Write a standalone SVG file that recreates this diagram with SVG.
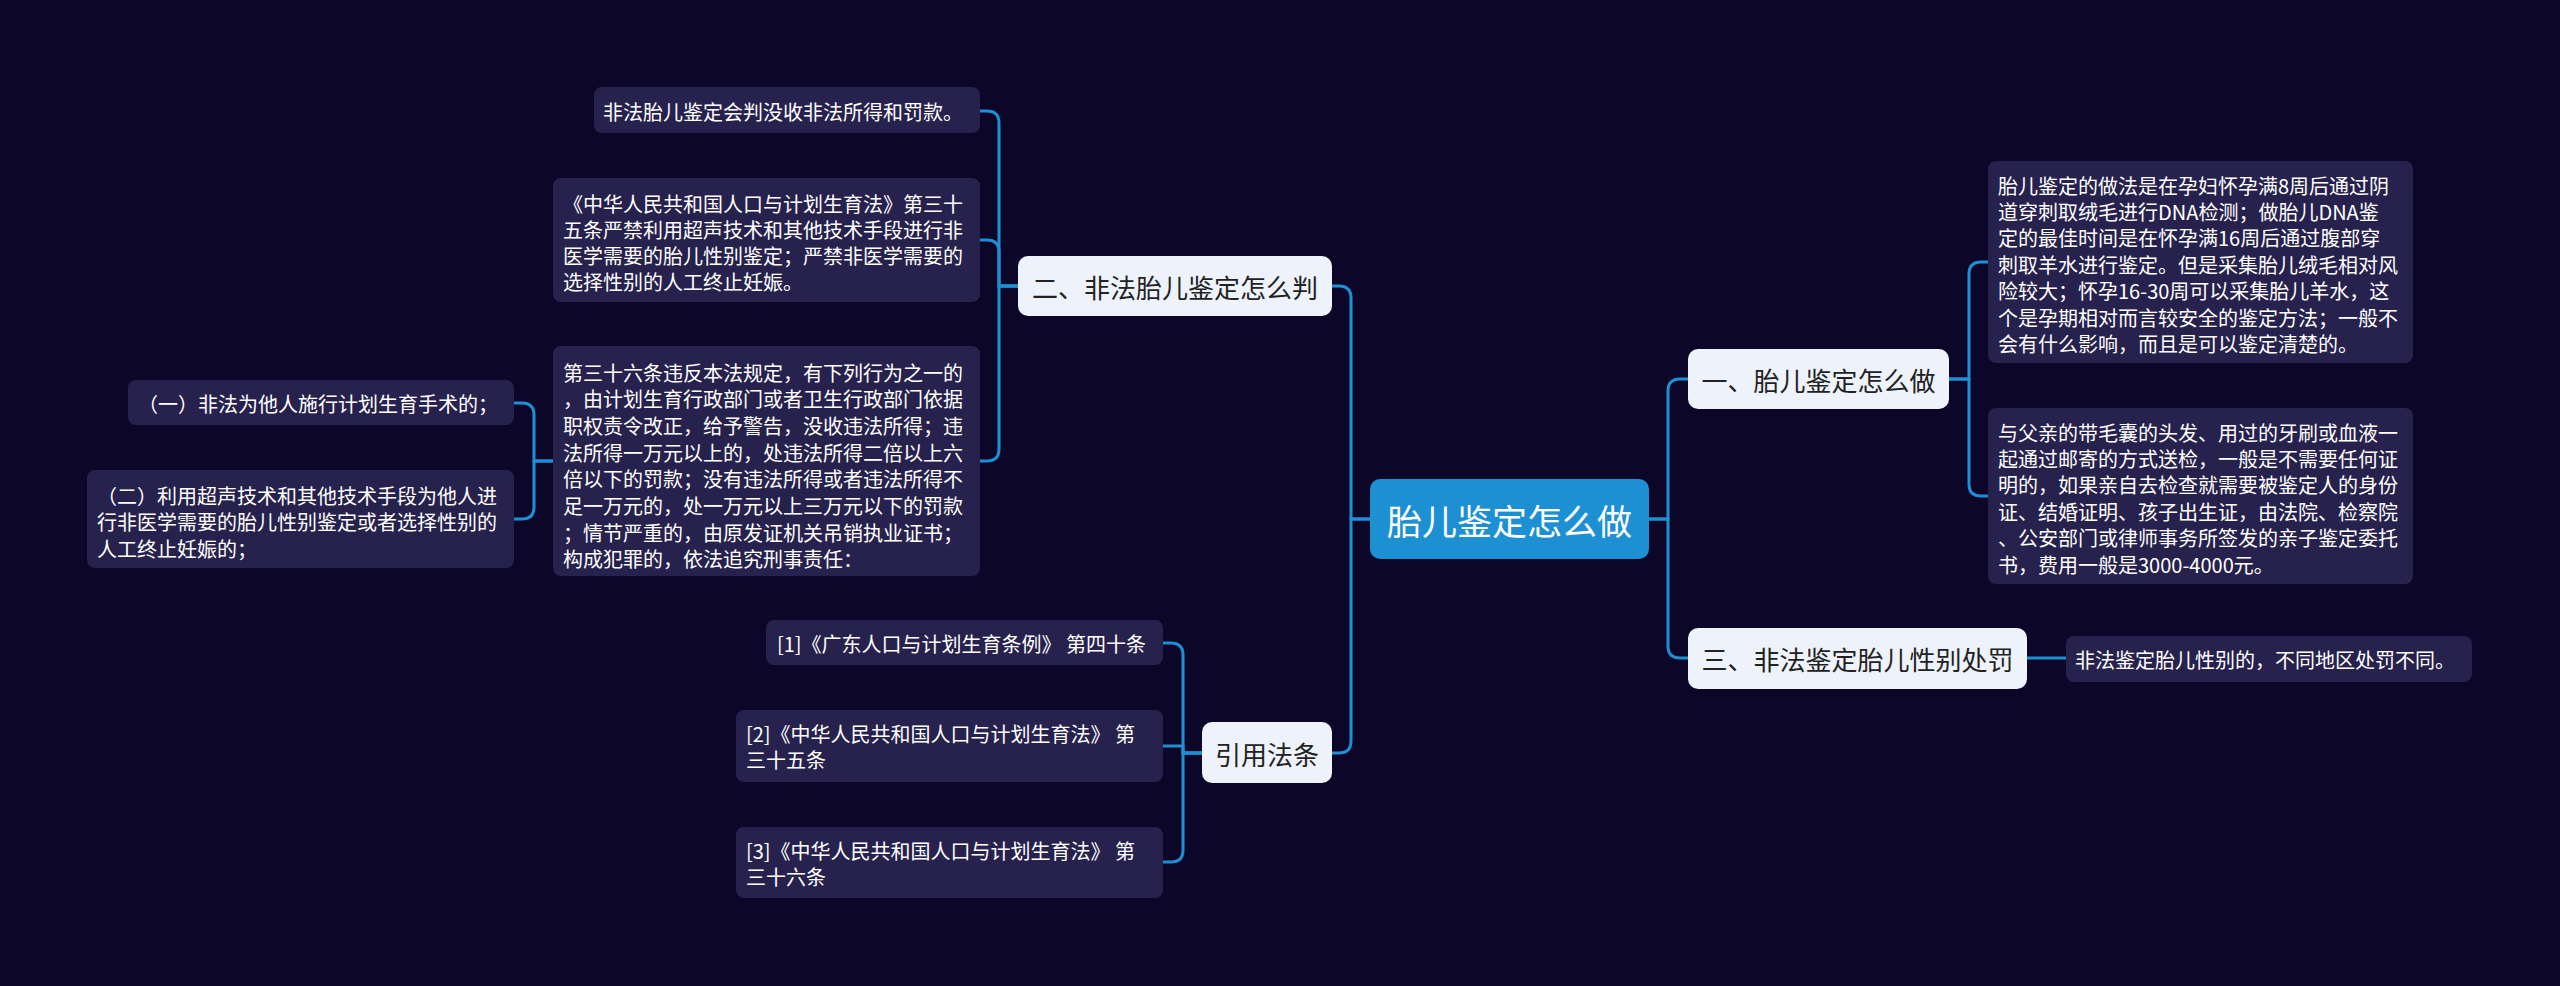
<svg xmlns="http://www.w3.org/2000/svg" width="2560" height="986" viewBox="0 0 2560 986">
<style>
.bg{fill:#0c0728}
.conn path{fill:none;stroke:#1f8fd4;stroke-width:3}
.leaf rect{fill:#27224d}
.leaf text{fill:#ffffff;font-family:"Noto Sans CJK SC","Noto Sans",sans-serif;font-size:20px;dominant-baseline:central}
.l1 rect{fill:#eef3fb}
.l1 text{fill:#222222;font-family:"Noto Sans CJK SC","Noto Sans",sans-serif;font-size:26px;dominant-baseline:central;text-anchor:middle}
.root rect{fill:#1d8fd3}
.root text{fill:#ffffff;font-family:"Noto Sans CJK SC","Noto Sans",sans-serif;font-size:35px;dominant-baseline:central;text-anchor:middle}
</style>
<rect class="bg" x="0" y="0" width="2560" height="986"/>
<g class="conn" id="connectors">
<path d="M1649 519 H1668 V391 Q1668 379 1680 379 H1688"/>
<path d="M1649 519 H1668 V646 Q1668 658 1680 658 H1688"/>
<path d="M1371 519 H1351 V298 Q1351 286 1339 286 H1332"/>
<path d="M1371 519 H1351 V741 Q1351 753 1339 753 H1332"/>
<path d="M1018 286 H999 V123 Q999 111 987 111 H980"/>
<path d="M1018 286 H999 V252 Q999 240 987 240 H980"/>
<path d="M1018 286 H999 V449 Q999 461 987 461 H980"/>
<path d="M553 461 H534 V415 Q534 403 522 403 H514"/>
<path d="M553 461 H534 V507 Q534 519 522 519 H514"/>
<path d="M1202 753 H1183 V655 Q1183 643 1171 643 H1163"/>
<path d="M1202 753 H1183 V746 H1163"/>
<path d="M1202 753 H1183 V850 Q1183 862 1171 862 H1163"/>
<path d="M1949 379 H1969 V274 Q1969 262 1981 262 H1988"/>
<path d="M1949 379 H1969 V484 Q1969 496 1981 496 H1988"/>
<path d="M2027 658 H2066"/>
</g>
<g class="root" id="root">
<rect x="1370" y="479" width="279" height="80" rx="10"/>
<text x="1509.5" y="519">胎儿鉴定怎么做</text>
</g>
<g class="l1" id="n2">
<rect x="1018" y="256" width="314" height="60" rx="10"/>
<text x="1175" y="286">二、非法胎儿鉴定怎么判</text>
</g>
<g class="l1" id="nref">
<rect x="1202" y="722" width="130" height="61" rx="10"/>
<text x="1267" y="753">引用法条</text>
</g>
<g class="l1" id="n1">
<rect x="1688" y="349" width="261" height="60" rx="10"/>
<text x="1818.5" y="379">一、胎儿鉴定怎么做</text>
</g>
<g class="l1" id="n3">
<rect x="1688" y="628" width="339" height="61" rx="10"/>
<text x="1857.5" y="658">三、非法鉴定胎儿性别处罚</text>
</g>
<g class="leaf" id="a">
<rect x="594" y="87" width="386" height="46" rx="8"/>
<text x="603" y="111">非法胎儿鉴定会判没收非法所得和罚款。</text>
</g>
<g class="leaf" id="b">
<rect x="553" y="178" width="427" height="124" rx="8"/>
<text x="563" y="203">《中华人民共和国人口与计划生育法》第三十</text>
<text x="563" y="229">五条严禁利用超声技术和其他技术手段进行非</text>
<text x="563" y="255">医学需要的胎儿性别鉴定；严禁非医学需要的</text>
<text x="563" y="281">选择性别的人工终止妊娠。</text>
</g>
<g class="leaf" id="c">
<rect x="553" y="346" width="427" height="230" rx="8"/>
<text x="563" y="372">第三十六条违反本法规定，有下列行为之一的</text>
<text x="563" y="398.7">，由计划生育行政部门或者卫生行政部门依据</text>
<text x="563" y="425.4">职权责令改正，给予警告，没收违法所得；违</text>
<text x="563" y="452.1">法所得一万元以上的，处违法所得二倍以上六</text>
<text x="563" y="478.8">倍以下的罚款；没有违法所得或者违法所得不</text>
<text x="563" y="505.5">足一万元的，处一万元以上三万元以下的罚款</text>
<text x="563" y="532.2">；情节严重的，由原发证机关吊销执业证书；</text>
<text x="563" y="558.9">构成犯罪的，依法追究刑事责任：</text>
</g>
<g class="leaf" id="d">
<rect x="128" y="380" width="386" height="45" rx="8"/>
<text x="138" y="403">（一）非法为他人施行计划生育手术的；</text>
</g>
<g class="leaf" id="e">
<rect x="87" y="470" width="427" height="98" rx="8"/>
<text x="97" y="495">（二）利用超声技术和其他技术手段为他人进</text>
<text x="97" y="521.5">行非医学需要的胎儿性别鉴定或者选择性别的</text>
<text x="97" y="548">人工终止妊娠的；</text>
</g>
<g class="leaf" id="f">
<rect x="766" y="620" width="397" height="45" rx="8"/>
<text x="777" y="643">[1]《广东人口与计划生育条例》 第四十条</text>
</g>
<g class="leaf" id="g">
<rect x="736" y="710" width="427" height="72" rx="8"/>
<text x="746" y="733">[2]《中华人民共和国人口与计划生育法》 第</text>
<text x="746" y="759">三十五条</text>
</g>
<g class="leaf" id="h">
<rect x="736" y="827" width="427" height="71" rx="8"/>
<text x="746" y="850">[3]《中华人民共和国人口与计划生育法》 第</text>
<text x="746" y="876">三十六条</text>
</g>
<g class="leaf" id="i">
<rect x="1988" y="161" width="425" height="202" rx="8"/>
<text x="1998" y="185">胎儿鉴定的做法是在孕妇怀孕满8周后通过阴</text>
<text x="1998" y="211.4">道穿刺取绒毛进行DNA检测；做胎儿DNA鉴</text>
<text x="1998" y="237.8">定的最佳时间是在怀孕满16周后通过腹部穿</text>
<text x="1998" y="264.2">刺取羊水进行鉴定。但是采集胎儿绒毛相对风</text>
<text x="1998" y="290.6">险较大；怀孕16-30周可以采集胎儿羊水，这</text>
<text x="1998" y="317">个是孕期相对而言较安全的鉴定方法；一般不</text>
<text x="1998" y="343.4">会有什么影响，而且是可以鉴定清楚的。</text>
</g>
<g class="leaf" id="j">
<rect x="1988" y="408" width="425" height="176" rx="8"/>
<text x="1998" y="432">与父亲的带毛囊的头发、用过的牙刷或血液一</text>
<text x="1998" y="458.4">起通过邮寄的方式送检，一般是不需要任何证</text>
<text x="1998" y="484.8">明的，如果亲自去检查就需要被鉴定人的身份</text>
<text x="1998" y="511.2">证、结婚证明、孩子出生证，由法院、检察院</text>
<text x="1998" y="537.6">、公安部门或律师事务所签发的亲子鉴定委托</text>
<text x="1998" y="564">书，费用一般是3000-4000元。</text>
</g>
<g class="leaf" id="k">
<rect x="2066" y="636" width="406" height="46" rx="8"/>
<text x="2075" y="659">非法鉴定胎儿性别的，不同地区处罚不同。</text>
</g>
</svg>
